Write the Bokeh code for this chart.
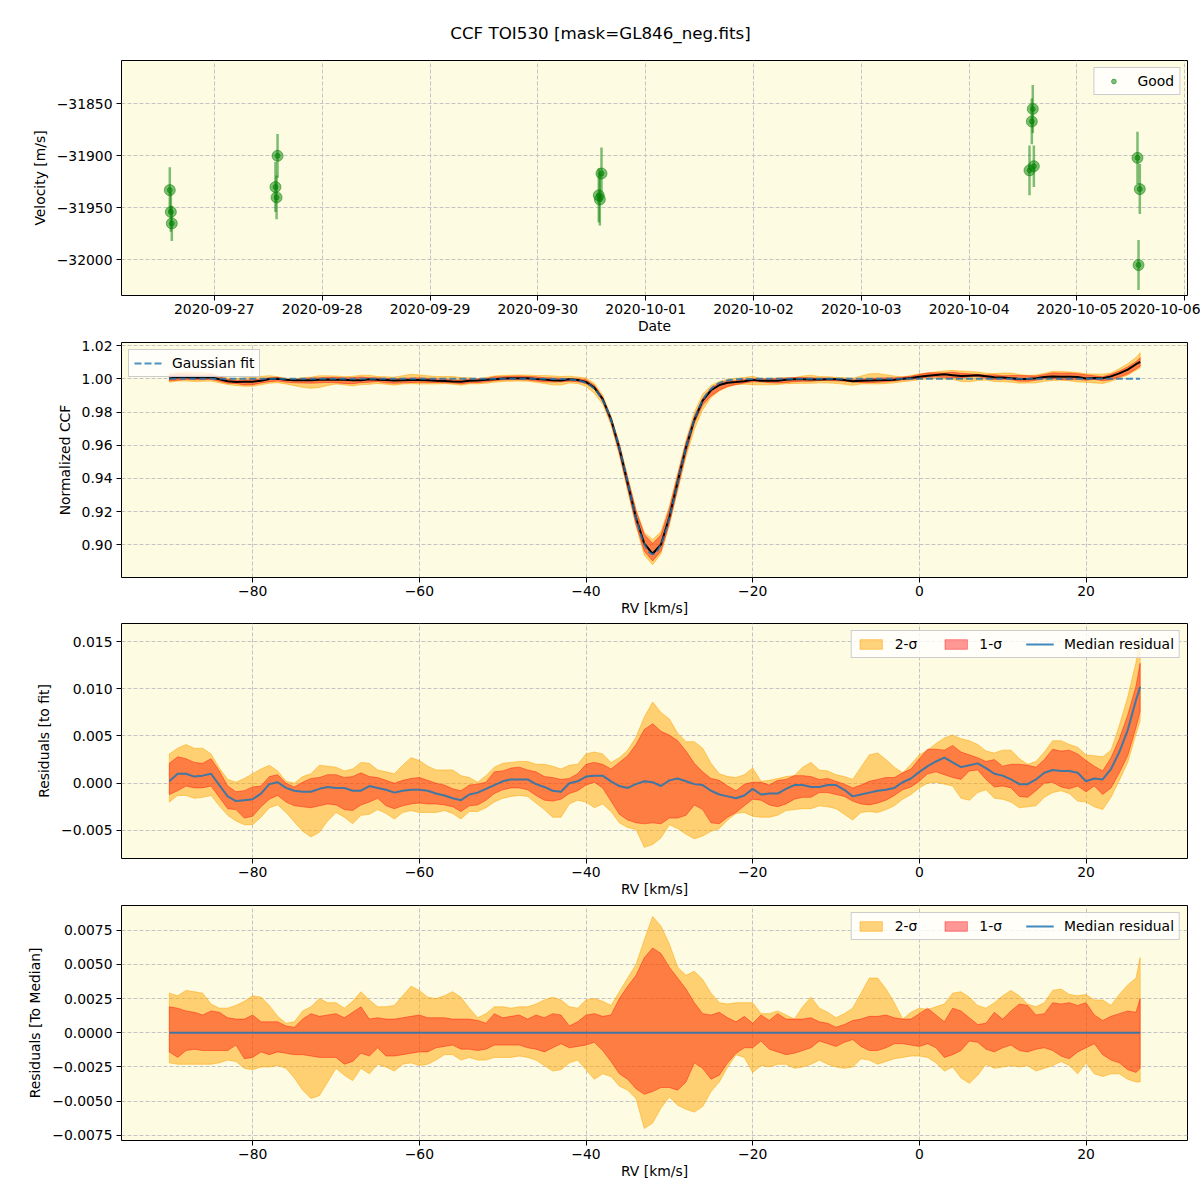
import numpy as np
from datetime import datetime
from bokeh.plotting import figure
from bokeh.layouts import column
from bokeh.models import Range1d, FixedTicker, CustomJSTickFormatter, DatetimeTickFormatter
from bokeh.core.properties import value
from bokeh.embed import file_html
from bokeh.resources import INLINE

TITLE = "CCF TOI530 [mask=GL846_neg.fits]"

# ---------------- panel 1 : RV time series ----------------
obs_time = ["2020-09-26 14:05", "2020-09-26 14:19", "2020-09-26 14:32",
            "2020-09-27 13:36", "2020-09-27 13:51", "2020-09-27 14:04",
            "2020-09-30 13:34", "2020-09-30 13:48", "2020-09-30 14:10",
            "2020-10-04 13:26", "2020-10-04 13:57", "2020-10-04 14:10", "2020-10-04 14:24",
            "2020-10-05 13:28", "2020-10-05 13:42", "2020-10-05 13:59"]
obs_vel = [-31933, -31954, -31965,
           -31930, -31940, -31900,
           -31938, -31942, -31917,
           -31914, -31867, -31855, -31910,
           -31902, -32005, -31932]
obs_err = [22, 19, 17,
           24, 21, 21,
           26, 25, 25,
           24, 22, 23, 20,
           25, 24, 24]
date_ticks = ["2020-09-27", "2020-09-28", "2020-09-29", "2020-09-30", "2020-10-01",
              "2020-10-02", "2020-10-03", "2020-10-04", "2020-10-05", "2020-10-06"]
vel_ticks = [-32000, -31950, -31900, -31850]

# ---------------- panels 2-4 : CCF and residuals ----------------
rv_grid = list(range(-90, 27)) + [26.5]

med_resid = [
    0.0002, 0.0010, 0.0010, 0.0007, 0.0008, 0.0010, -0.0002, -0.0014, -0.0019, -0.0018,
    -0.0017, -0.0011, -0.0001, 0.0001, -0.0005, -0.0008, -0.0009, -0.0009, -0.0006, -0.0004,
    -0.0005, -0.0005, -0.0008, -0.0008, -0.0003, -0.0005, -0.0007, -0.0010, -0.0008, -0.0007,
    -0.0007, -0.0008, -0.0011, -0.0013, -0.0016, -0.0018, -0.0012, -0.0010, -0.0006, -0.0002,
    0.0002, 0.0004, 0.0004, 0.0004, -0.0001, -0.0004, -0.0008, -0.0009, 0.0000, 0.0002,
    0.0007, 0.0008, 0.0008, 0.0002, -0.0003, -0.0005, -0.0001, 0.0002, 0.0001, -0.0003,
    0.0003, 0.0005, 0.0002, -0.0001, -0.0002, -0.0008, -0.0012, -0.0014, -0.0016, -0.0013,
    -0.0006, -0.0012, -0.0011, -0.0011, -0.0006, -0.0002, -0.0002, -0.0004, -0.0004, -0.0002,
    -0.0002, -0.0007, -0.0014, -0.0012, -0.0010, -0.0008, -0.0007, -0.0005, 0.0001, 0.0005,
    0.0012, 0.0018, 0.0023, 0.0027, 0.0022, 0.0017, 0.0019, 0.0021, 0.0016, 0.0010,
    0.0008, 0.0004, -0.0001, -0.0001, 0.0004, 0.0011, 0.0014, 0.0013, 0.0013, 0.0011,
    0.0002, 0.0005, 0.0004, 0.0015, 0.0033, 0.0056, 0.0088,
    0.0102]

# band edges relative to the median residual
sig2_hi = [
    0.0029, 0.0027, 0.0031, 0.0030, 0.0029, 0.0021, 0.0018, 0.0018, 0.0020, 0.0023,
    0.0027, 0.0026, 0.0020, 0.0012, 0.0007, 0.0008, 0.0016, 0.0019, 0.0025, 0.0022,
    0.0022, 0.0018, 0.0023, 0.0030, 0.0024, 0.0019, 0.0019, 0.0020, 0.0027, 0.0034,
    0.0031, 0.0026, 0.0025, 0.0027, 0.0030, 0.0026, 0.0018, 0.0011, 0.0014, 0.0019,
    0.0019, 0.0018, 0.0019, 0.0019, 0.0021, 0.0024, 0.0026, 0.0024, 0.0019, 0.0018,
    0.0024, 0.0025, 0.0023, 0.0020, 0.0030, 0.0040, 0.0050, 0.0068, 0.0085, 0.0078,
    0.0065, 0.0048, 0.0042, 0.0045, 0.0039, 0.0029, 0.0022, 0.0021, 0.0022, 0.0022,
    0.0022, 0.0014, 0.0014, 0.0016, 0.0013, 0.0010, 0.0019, 0.0026, 0.0018, 0.0015,
    0.0011, 0.0014, 0.0018, 0.0029, 0.0040, 0.0040, 0.0032, 0.0022, 0.0010, 0.0015,
    0.0018, 0.0017, 0.0019, 0.0021, 0.0029, 0.0030, 0.0026, 0.0020, 0.0018, 0.0022,
    0.0027, 0.0031, 0.0027, 0.0021, 0.0019, 0.0022, 0.0031, 0.0032, 0.0028, 0.0027,
    0.0028, 0.0024, 0.0024, 0.0020, 0.0028, 0.0035, 0.0040,
    0.0055]
sig1_hi = [
    0.0019, 0.0018, 0.0016, 0.0015, 0.0013, 0.0016, 0.0015, 0.0011, 0.0010, 0.0010,
    0.0013, 0.0008, 0.0008, 0.0008, 0.0005, 0.0004, 0.0010, 0.0014, 0.0012, 0.0013,
    0.0014, 0.0011, 0.0015, 0.0019, 0.0010, 0.0011, 0.0010, 0.0010, 0.0011, 0.0012,
    0.0013, 0.0011, 0.0011, 0.0011, 0.0010, 0.0010, 0.0010, 0.0009, 0.0007, 0.0014,
    0.0011, 0.0012, 0.0013, 0.0010, 0.0013, 0.0011, 0.0014, 0.0013, 0.0005, 0.0008,
    0.0013, 0.0014, 0.0012, 0.0013, 0.0025, 0.0034, 0.0042, 0.0055, 0.0062, 0.0058,
    0.0048, 0.0040, 0.0032, 0.0022, 0.0014, 0.0013, 0.0015, 0.0011, 0.0008, 0.0012,
    0.0007, 0.0013, 0.0009, 0.0014, 0.0010, 0.0010, 0.0010, 0.0011, 0.0008, 0.0007,
    0.0004, 0.0006, 0.0009, 0.0010, 0.0012, 0.0012, 0.0013, 0.0011, 0.0010, 0.0010,
    0.0014, 0.0018, 0.0013, 0.0008, 0.0018, 0.0016, 0.0011, 0.0006, 0.0007, 0.0015,
    0.0010, 0.0016, 0.0021, 0.0020, 0.0013, 0.0014, 0.0022, 0.0021, 0.0022, 0.0020,
    0.0022, 0.0013, 0.0009, 0.0012, 0.0014, 0.0016, 0.0015,
    0.0025]
sig1_lo = [
    -0.0014, -0.0018, -0.0013, -0.0012, -0.0013, -0.0013, -0.0013, -0.0013, -0.0009, -0.0019,
    -0.0018, -0.0014, -0.0016, -0.0014, -0.0015, -0.0016, -0.0016, -0.0017, -0.0018, -0.0018,
    -0.0018, -0.0023, -0.0021, -0.0015, -0.0017, -0.0011, -0.0017, -0.0017, -0.0016, -0.0015,
    -0.0014, -0.0014, -0.0011, -0.0010, -0.0009, -0.0012, -0.0012, -0.0013, -0.0012, -0.0009,
    -0.0009, -0.0009, -0.0009, -0.0011, -0.0012, -0.0014, -0.0011, -0.0008, -0.0011, -0.0010,
    -0.0009, -0.0007, -0.0013, -0.0021, -0.0030, -0.0034, -0.0041, -0.0045, -0.0043, -0.0040,
    -0.0040, -0.0042, -0.0036, -0.0022, -0.0026, -0.0034, -0.0031, -0.0022, -0.0015, -0.0011,
    -0.0011, -0.0006, -0.0012, -0.0014, -0.0016, -0.0015, -0.0013, -0.0011, -0.0006, -0.0008,
    -0.0010, -0.0007, -0.0005, -0.0010, -0.0013, -0.0013, -0.0011, -0.0008, -0.0008, -0.0009,
    -0.0010, -0.0008, -0.0011, -0.0018, -0.0016, -0.0013, -0.0006, -0.0007, -0.0012, -0.0014,
    -0.0011, -0.0009, -0.0013, -0.0014, -0.0012, -0.0011, -0.0013, -0.0017, -0.0019, -0.0014,
    -0.0011, -0.0008, -0.0016, -0.0020, -0.0022, -0.0027, -0.0029,
    -0.0026]
sig2_lo = [
    -0.0022, -0.0023, -0.0023, -0.0023, -0.0023, -0.0023, -0.0022, -0.0020, -0.0021, -0.0026,
    -0.0027, -0.0025, -0.0025, -0.0024, -0.0026, -0.0033, -0.0042, -0.0048, -0.0046, -0.0036,
    -0.0026, -0.0031, -0.0035, -0.0026, -0.0030, -0.0023, -0.0025, -0.0028, -0.0023, -0.0022,
    -0.0024, -0.0023, -0.0020, -0.0016, -0.0016, -0.0020, -0.0018, -0.0020, -0.0020, -0.0018,
    -0.0018, -0.0018, -0.0017, -0.0018, -0.0020, -0.0024, -0.0028, -0.0027, -0.0022, -0.0020,
    -0.0027, -0.0034, -0.0030, -0.0032, -0.0039, -0.0042, -0.0048, -0.0070, -0.0066, -0.0055,
    -0.0047, -0.0053, -0.0056, -0.0058, -0.0054, -0.0043, -0.0036, -0.0025, -0.0016, -0.0018,
    -0.0029, -0.0024, -0.0025, -0.0023, -0.0023, -0.0026, -0.0025, -0.0023, -0.0020, -0.0023,
    -0.0025, -0.0026, -0.0025, -0.0019, -0.0020, -0.0023, -0.0021, -0.0019, -0.0018, -0.0017,
    -0.0017, -0.0018, -0.0022, -0.0028, -0.0025, -0.0033, -0.0037, -0.0031, -0.0023, -0.0026,
    -0.0025, -0.0024, -0.0025, -0.0024, -0.0028, -0.0026, -0.0024, -0.0021, -0.0024, -0.0030,
    -0.0022, -0.0030, -0.0032, -0.0030, -0.0030, -0.0034, -0.0036,
    -0.0036]

# Gaussian fit parameters
GAUSS_CONT = 1.0
GAUSS_DEPTH = 0.1055
GAUSS_CENTER = -32.0
GAUSS_SIGMA = 2.93

rv_ticks = [-80, -60, -40, -20, 0, 20]
ccf_ticks = [0.90, 0.92, 0.94, 0.96, 0.98, 1.00, 1.02]
res_ticks = [-0.005, 0.0, 0.005, 0.010, 0.015]
med_ticks = [-0.0075, -0.0050, -0.0025, 0.0, 0.0025, 0.0050, 0.0075]

# ---------------- styling ----------------
FONT = "DejaVu Sans"
FS = "13.9px"
BG = "#FDFBE2"
GRID = "#c4c4c4"
ORANGE = "orange"
RED = "red"
BLUE = "#1f77b4"
LEFT, FRAME_W, RIGHT = 121, 1066, 13


def to_ms(dt):
    return (dt - datetime(1970, 1, 1)).total_seconds() * 1000.0


def fmt(dec):
    return CustomJSTickFormatter(code=f"""
        const t = Math.abs(tick) < 1e-12 ? 0 : tick;
        return t.toFixed({dec}).replace('-', '\\u2212');
    """)


def make_fig(x_range, y_range, top, bottom, x_axis_type="linear"):
    p = figure(frame_width=FRAME_W, frame_height=235, x_range=x_range, y_range=y_range,
               x_axis_type=x_axis_type, min_border_left=LEFT, min_border_right=RIGHT,
               min_border_top=top, min_border_bottom=bottom,
               toolbar_location=None, output_backend="svg")
    p.background_fill_color = BG
    p.border_fill_color = "white"
    p.outline_line_color = "black"
    p.outline_line_width = 1
    p.outline_line_alpha = 1
    for ax in p.xaxis + p.yaxis:
        ax.axis_line_color = None
        ax.major_tick_line_color = "black"
        ax.major_tick_out = 5
        ax.major_tick_in = 0
        ax.minor_tick_line_color = None
        ax.major_label_text_font = FONT
        ax.major_label_text_font_size = FS
        ax.major_label_text_color = "black"
        ax.axis_label_text_font = FONT
        ax.axis_label_text_font_size = FS
        ax.axis_label_text_font_style = "normal"
        ax.axis_label_text_color = "black"
    for ax in p.xaxis:
        ax.major_label_standoff = 3
        ax.axis_label_standoff = 1
    for ax in p.yaxis:
        ax.major_label_standoff = 4
        ax.axis_label_standoff = 6
    p.grid.grid_line_color = GRID
    p.grid.grid_line_dash = "4 2"
    p.grid.grid_line_width = 1
    return p


def style_legend(p, loc, horizontal=False):
    lg = p.legend[0]
    lg.location = loc
    lg.label_text_font = FONT
    lg.label_text_font_size = FS
    lg.label_text_color = "black"
    lg.border_line_color = "#cccccc"
    lg.border_line_alpha = 1
    lg.background_fill_color = "white"
    lg.background_fill_alpha = 0.8
    lg.margin = 7
    lg.padding = 5
    lg.glyph_width = 28
    lg.glyph_height = 12
    lg.label_standoff = 10
    lg.label_height = 14
    if horizontal:
        lg.orientation = "horizontal"
        lg.spacing = 24


# ---------------- title ----------------
tfig = figure(frame_width=FRAME_W, frame_height=52, min_border_left=LEFT, min_border_right=RIGHT,
              min_border_top=0, min_border_bottom=0,
              x_range=Range1d(LEFT, LEFT + FRAME_W), y_range=Range1d(52, 0),
              toolbar_location=None, output_backend="svg")
tfig.axis.visible = False
tfig.grid.visible = False
tfig.outline_line_color = None
tfig.text(x=[600], y=[32], text=[TITLE], text_align="center", text_baseline="middle",
          text_font=value(FONT), text_font_size="16.7px", text_color="black")

# ---------------- panel 1 ----------------
t_obs = [datetime.strptime(s, "%Y-%m-%d %H:%M") for s in obs_time]
v = np.array(obs_vel, dtype=float)
e = np.array(obs_err, dtype=float)
p1 = make_fig(Range1d(to_ms(datetime(2020, 9, 26, 3, 20)), to_ms(datetime(2020, 10, 6, 0, 36))),
              Range1d(-32034.3, -31808.4), 8, 41, x_axis_type="datetime")
p1.xaxis.ticker = FixedTicker(ticks=[to_ms(datetime.strptime(d, "%Y-%m-%d")) for d in date_ticks])
p1.xaxis.formatter = DatetimeTickFormatter(days="%Y-%m-%d", months="%Y-%m-%d", hours="%Y-%m-%d",
                                           years="%Y-%m-%d", hourmin="%Y-%m-%d", minutes="%Y-%m-%d")
p1.yaxis.ticker = FixedTicker(ticks=vel_ticks)
p1.yaxis.formatter = fmt(0)
p1.xaxis.axis_label = "Date"
p1.yaxis.axis_label = "Velocity [m/s]"
p1.segment(x0=t_obs, y0=v - e, x1=t_obs, y1=v + e, line_color="green", line_alpha=0.5, line_width=2.5)
p1.scatter(t_obs, v, size=11, fill_color="green", fill_alpha=0.5, line_color="green", line_alpha=0.5)
p1.scatter(t_obs, v, size=5, fill_color="green", fill_alpha=0.5, line_color="green", line_alpha=0.5,
           legend_label="Good")
style_legend(p1, "top_right")

# ---------------- derived curves ----------------
rv = np.array(rv_grid, dtype=float)
med = np.array(med_resid)
h2 = np.array(sig2_hi)
h1 = np.array(sig1_hi)
l1 = np.array(sig1_lo)
l2 = np.array(sig2_lo)
fit_grid = GAUSS_CONT - GAUSS_DEPTH * np.exp(-0.5 * ((rv - GAUSS_CENTER) / GAUSS_SIGMA) ** 2)
rv_fine = np.linspace(rv[0], rv[-1], 800)
fit_fine = GAUSS_CONT - GAUSS_DEPTH * np.exp(-0.5 * ((rv_fine - GAUSS_CENTER) / GAUSS_SIGMA) ** 2)
xpoly = np.concatenate([rv, rv[::-1]])


def add_bands(p, base, with_legend):
    kw2 = dict(legend_label="2-σ") if with_legend else {}
    kw1 = dict(legend_label="1-σ") if with_legend else {}
    p.patch(xpoly, np.concatenate([base + h2, (base + l2)[::-1]]),
            fill_color=ORANGE, fill_alpha=0.5, line_color=ORANGE, line_alpha=0.5, line_width=1, **kw2)
    p.patch(xpoly, np.concatenate([base + h1, (base + l1)[::-1]]),
            fill_color=RED, fill_alpha=0.4, line_color=RED, line_alpha=0.4, line_width=1, **kw1)


XR = (-95.74, 32.18)

# ---------------- panel 2 ----------------
p2 = make_fig(Range1d(*XR), Range1d(0.8803, 1.0219), 6, 45)
p2.xaxis.ticker = FixedTicker(ticks=rv_ticks)
p2.xaxis.formatter = fmt(0)
p2.yaxis.ticker = FixedTicker(ticks=ccf_ticks)
p2.yaxis.formatter = fmt(2)
p2.xaxis.axis_label = "RV [km/s]"
p2.yaxis.axis_label = "Normalized CCF"
ccf_med = fit_grid + med
add_bands(p2, ccf_med, False)
p2.line(rv, ccf_med, line_color="black", line_width=2)
p2.line(rv_fine, fit_fine, line_color=BLUE, line_alpha=0.8, line_width=2, line_dash="7 3",
        legend_label="Gaussian fit")
style_legend(p2, "top_left")

# ---------------- panel 3 ----------------
p3 = make_fig(Range1d(*XR), Range1d(-0.00798, 0.01692), 1, 45)
p3.xaxis.ticker = FixedTicker(ticks=rv_ticks)
p3.xaxis.formatter = fmt(0)
p3.yaxis.ticker = FixedTicker(ticks=res_ticks)
p3.yaxis.formatter = fmt(3)
p3.xaxis.axis_label = "RV [km/s]"
p3.yaxis.axis_label = "Residuals [to fit]"
add_bands(p3, med, True)
p3.line(rv, med, line_color=BLUE, line_alpha=0.85, line_width=2, legend_label="Median residual")
style_legend(p3, "top_right", horizontal=True)

# ---------------- panel 4 ----------------
p4 = make_fig(Range1d(*XR), Range1d(-0.00788, 0.00931), 2, 45)
p4.xaxis.ticker = FixedTicker(ticks=rv_ticks)
p4.xaxis.formatter = fmt(0)
p4.yaxis.ticker = FixedTicker(ticks=med_ticks)
p4.yaxis.formatter = fmt(4)
p4.xaxis.axis_label = "RV [km/s]"
p4.yaxis.axis_label = "Residuals [To Median]"
zero = med - med
add_bands(p4, zero, True)
p4.line(rv, zero, line_color=BLUE, line_alpha=0.85, line_width=2, legend_label="Median residual")
style_legend(p4, "top_right", horizontal=True)

layout = column(tfig, p1, p2, p3, p4, spacing=0)
open("out.html", "w").write(file_html(layout, INLINE, title=TITLE))
